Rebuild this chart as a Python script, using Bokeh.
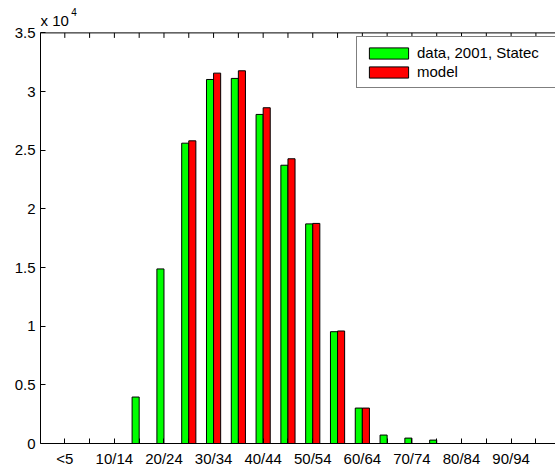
from bokeh.plotting import figure
from bokeh.models import (Range1d, FixedTicker, Legend, LegendItem,
                          Label, ColumnDataSource)
from bokeh.embed import file_html
from bokeh.resources import INLINE

# ---- data ----
categories = ["<5", "5/9", "10/14", "15/19", "20/24", "25/29", "30/34", "35/39",
              "40/44", "45/49", "50/54", "55/59", "60/64", "65/69", "70/74",
              "75/79", "80/84", "85/89", "90/94", "95+"]
data_2001 = [0, 0, 0, 3960, 14880, 25600, 31030, 31120, 28050, 23720,
             18720, 9530, 3020, 720, 460, 290, 0, 0, 0, 0]
model_vals = [0, 0, 0, 0, 0, 25800, 31570, 31770, 28620, 24270,
              18760, 9590, 3020, 0, 0, 0, 0, 0, 0, 0]
y_ticks = [0, 5000, 10000, 15000, 20000, 25000, 30000, 35000]
y_tick_labels = ["0", "0.5", "1", "1.5", "2", "2.5", "3", "3.5"]

FONT = "Liberation Sans"
FS = "15px"

YTOP = y_ticks[-1]
YEND = 37591
XSTART = 0.02
XEND = 20.79
xs = list(range(1, len(categories) + 1))
bw = 0.2857
off = 0.1429

src = ColumnDataSource(dict(
    xg=[x - off for x in xs], xr=[x + off for x in xs],
    data=data_2001, model=model_vals))

# frame extends above the 3.5e4 line so the exponent label sits inside it
p = figure(width=555, height=472, output_backend="svg", toolbar_location=None,
           x_range=Range1d(XSTART, XEND), y_range=Range1d(0, YEND),
           min_border_left=40, min_border_right=0, min_border_top=2,
           min_border_bottom=29)
p.outline_line_color = None
p.xgrid.visible = False
p.ygrid.visible = False
p.background_fill_color = "white"
p.border_fill_color = "white"

g = p.vbar(x="xg", top="data", width=bw, bottom=0, source=src,
           fill_color="#00FF00", line_color="black", line_width=1)
r = p.vbar(x="xr", top="model", width=bw, bottom=0, source=src,
           fill_color="#FF0000", line_color="black", line_width=1)

# x axis (bottom)
xa = p.xaxis[0]
xa.ticker = FixedTicker(ticks=xs)
xa.major_label_overrides = {x: (categories[i] if i % 2 == 0 else "")
                            for i, x in enumerate(xs)}
xa.major_tick_in = 5
xa.major_tick_out = 0
xa.minor_tick_line_color = None
xa.major_label_standoff = 6
xa.major_label_text_font = FONT
xa.major_label_text_font_size = FS
xa.major_label_text_color = "black"
xa.axis_line_color = "black"
xa.major_tick_line_color = "black"

# y axis (left)
ya = p.yaxis[0]
ya.ticker = FixedTicker(ticks=y_ticks)
ya.bounds = (0, YTOP)
ya.major_label_overrides = {t: l for t, l in zip(y_ticks, y_tick_labels)}
ya.major_tick_in = 5
ya.major_tick_out = 0
ya.minor_tick_line_color = None
ya.major_label_standoff = 5
ya.major_label_text_font = FONT
ya.major_label_text_font_size = FS
ya.major_label_text_color = "black"
ya.axis_line_color = "black"
ya.major_tick_line_color = "black"

# top box line with inward ticks
tick_len = 5 * YTOP / 410.6
p.segment(x0=[XSTART], y0=[YTOP], x1=[XEND], y1=[YTOP], line_color="black",
          line_width=1)
p.segment(x0=xs, y0=[YTOP] * len(xs), x1=xs, y1=[YTOP - tick_len] * len(xs),
          line_color="black", line_width=1)

# exponent label
p.add_layout(Label(x=XSTART, y=36057, text="x 10", text_font=FONT,
                   text_font_size=FS, text_color="black",
                   text_baseline="alphabetic", text_align="left"))
p.add_layout(Label(x=1.26, y=36739, text="4", text_font=FONT,
                   text_font_size="10px", text_color="black",
                   text_baseline="alphabetic", text_align="left"))

legend = Legend(items=[LegendItem(label="data, 2001, Statec", renderers=[g]),
                       LegendItem(label="model", renderers=[r])],
                location=(316, 355))
legend.label_text_font = FONT
legend.label_text_font_size = FS
legend.label_text_color = "black"
legend.glyph_width = 49
legend.glyph_height = 14
legend.label_standoff = 4
legend.label_height = 17
legend.label_width = 132
legend.spacing = 2
legend.padding = 7
legend.margin = 0
legend.border_line_color = "black"
legend.border_line_width = 1
legend.background_fill_color = "white"
legend.background_fill_alpha = 1
p.add_layout(legend)

open("out.html", "w").write(file_html(p, INLINE))
